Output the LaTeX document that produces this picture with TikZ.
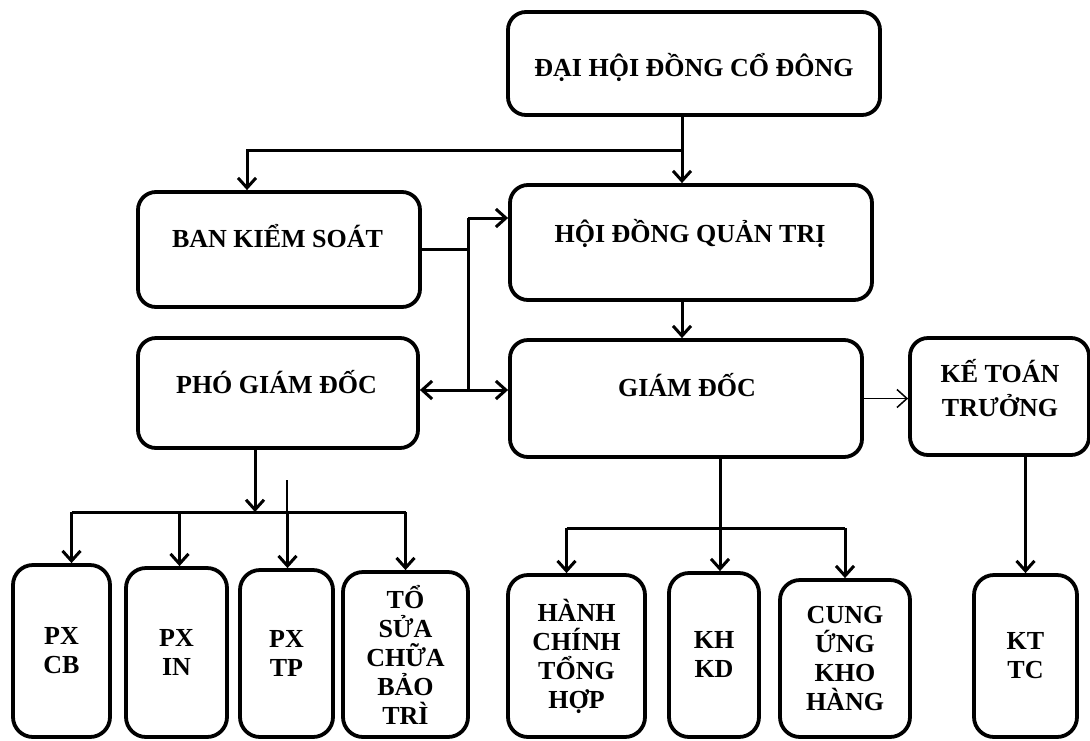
\documentclass[tikz,border=0pt]{standalone}
\usepackage{fontspec}
\setmainfont{Liberation Serif}
\usetikzlibrary{arrows.meta,calc}

\tikzset{
  box/.style={draw, line width=3.8pt, rounded corners=18pt, inner sep=0pt},
  txt/.style={font=\bfseries\fontsize{26}{29}\selectfont, align=center, inner sep=0pt},
  unit/.style={box, txt, rounded corners=20pt},
  link/.style={line width=3pt},
  thinlink/.style={line width=1.5pt},
}

\begin{document}
\begin{tikzpicture}[x=1pt,y=-1pt,>={Straight Barb[length=10pt,width=18pt]}]
\useasboundingbox (0,0) rectangle (1090,740);
% upper level
\node[box, minimum width=372, minimum height=103] (dhcd) at (694,63.5) {};
\node[box, minimum width=362, minimum height=115] (hdqt) at (691,242.5) {};
\node[box, minimum width=282, minimum height=115] (bks) at (279,249.5) {};
\node[box, minimum width=280, minimum height=110] (pgd) at (278,393) {};
\node[box, minimum width=352, minimum height=117] (gd) at (686,398.5) {};
\node[box, minimum width=179, minimum height=117] (ktt) at (999.5,396.5) {};
\node[txt, anchor=base] (dhcd-t) at (694,76) {ĐẠI HỘI ĐỒNG CỔ ĐÔNG};
\node[txt, anchor=base] (hdqt-t) at (690,242) {HỘI ĐỒNG QUẢN TRỊ};
\node[txt, anchor=base] (bks-t) at (277.5,247) {BAN KIỂM SOÁT};
\node[txt, anchor=base] (pgd-t) at (276.5,393) {PHÓ GIÁM ĐỐC};
\node[txt, anchor=base] (gd-t) at (687,396) {GIÁM ĐỐC};
\node[txt] (ktt-t) at (1000,388) {KẾ TOÁN\\[5pt]TRƯỞNG};
% lower level
\node[unit, minimum width=97, minimum height=172] (pxcb) at (61.5,651) {PX\\CB};
\node[unit, minimum width=101, minimum height=169] (pxin) at (176.5,652.5) {PX\\IN};
\node[unit, minimum width=93, minimum height=167] (pxtp) at (286.5,653.5) {PX\\TP};
\node[unit, minimum width=125, minimum height=165] (tsc) at (405.5,654.5) {TỔ\\SỬA\\CHỮA\\BẢO\\TRÌ};
\node[unit, minimum width=137, minimum height=162] (hcth) at (576.5,656) {HÀNH\\CHÍNH\\TỔNG\\HỢP};
\node[unit, minimum width=90, minimum height=164] (khkd) at (714,655) {KH\\KD};
\node[unit, minimum width=130, minimum height=157] (cukh) at (845,658.5) {CUNG\\ỨNG\\KHO\\HÀNG};
\node[unit, minimum width=103, minimum height=162] (kttc) at (1025.5,656) {KT\\TC};

\coordinate (split) at (682,150);
\coordinate (bksin) at (247,150);
\coordinate (jt) at (468,218);
\coordinate (jb) at (468,390);
\coordinate (bus1) at (255,512);
\coordinate (tick) at (287,480);
\coordinate (bus2) at (720,528);

% shareholders -> board, control
\draw[link,->] (dhcd.south -| split) -- (hdqt.north -| split);
\draw[link,->] (split) -- (bksin) -- (bksin |- bks.north);
\draw[link,->] (hdqt.south -| split) -- (gd.north -| split);
% control -> board, director
\draw[link] (bks.east) -- (bks.east -| jt);
\draw[link] (jt) -- (jb);
\draw[link,->] (jt) -- (jt -| hdqt.west);
\draw[link,->] (jb) -- (jb -| gd.west);
\draw[link,->] (jb) -- (jb -| pgd.east);
\draw[thinlink,->] (gd.east) -- (gd.east -| ktt.west);
\draw[link,->] (ktt.south -| kttc.north) -- (kttc.north);
% workshops
\draw[link,->] (pgd.south -| bus1) -- (bus1);
\draw[thinlink] (tick) -- (tick |- bus1);
\draw[link] ([xshift=10]pxcb.north |- bus1) -- (tsc.north |- bus1);
\draw[link,->] ([xshift=10]pxcb.north |- bus1) -- ([xshift=10]pxcb.north);
\draw[link,->] ([xshift=3]pxin.north |- bus1) -- ([xshift=3]pxin.north);
\draw[link,->] ([xshift=1]pxtp.north |- bus1) -- ([xshift=1]pxtp.north);
\draw[link,->] (tsc.north |- bus1) -- (tsc.north);
% departments
\draw[link,->] (gd.south -| bus2) -- (bus2) -- (khkd.north -| bus2);
\draw[link] ([xshift=-10]hcth.north |- bus2) -- (cukh.north |- bus2);
\draw[link,->] ([xshift=-10]hcth.north |- bus2) -- ([xshift=-10]hcth.north);
\draw[link,->] (cukh.north |- bus2) -- (cukh.north);
\end{tikzpicture}
\end{document}
